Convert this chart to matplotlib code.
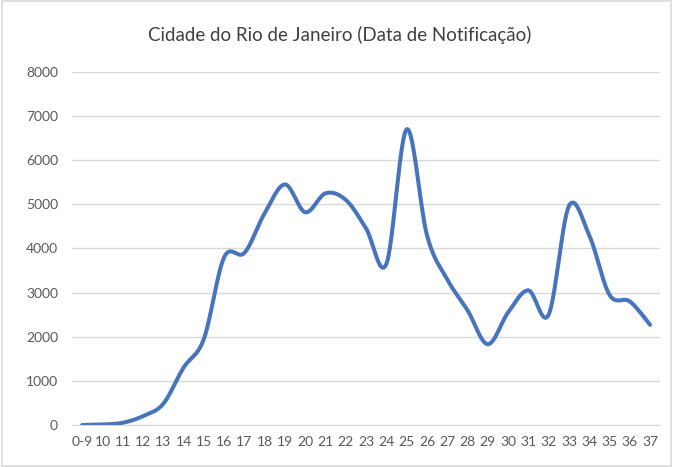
import numpy as np
import matplotlib
matplotlib.use("Agg")
import matplotlib.pyplot as plt
from matplotlib.patches import Rectangle
from matplotlib import font_manager

categories = ["0-9"] + [str(i) for i in range(10, 38)]
values = [0, 10, 50, 200, 480, 1300, 1950, 3800, 3900, 4800, 5450, 4820, 5250, 5100,
          4450, 3650, 6700, 4300, 3300, 2600, 1830, 2550, 3050, 2500, 4960, 4300,
          2950, 2800, 2270]
yticks = [0, 1000, 2000, 3000, 4000, 5000, 6000, 7000, 8000]
title = "Cidade do Rio de Janeiro (Data de Notificação)"

names = {f.name for f in font_manager.fontManager.ttflist}
fam = [f for f in ["Lato", "Open Sans", "DejaVu Sans"] if f in names]
plt.rcParams['font.family'] = fam


def smooth(x, y, n=30):
    # Bezier smoothing similar to spreadsheet "smoothed line"
    x = np.asarray(x, float); y = np.asarray(y, float)
    px, py = [], []
    for i in range(len(x) - 1):
        x0, y0 = (x[i - 1], y[i - 1]) if i > 0 else (x[i], y[i])
        x3, y3 = (x[i + 2], y[i + 2]) if i + 2 < len(x) else (x[i + 1], y[i + 1])
        x1, y1 = x[i], y[i]
        x2, y2 = x[i + 1], y[i + 1]
        c1x = x1 + (x2 - x0) / 6; c1y = y1 + (y2 - y0) / 6
        c2x = x2 - (x3 - x1) / 6; c2y = y2 - (y3 - y1) / 6
        t = np.linspace(0, 1, n)
        bx = (1 - t) ** 3 * x1 + 3 * (1 - t) ** 2 * t * c1x + 3 * (1 - t) * t ** 2 * c2x + t ** 3 * x2
        by = (1 - t) ** 3 * y1 + 3 * (1 - t) ** 2 * t * c1y + 3 * (1 - t) * t ** 2 * c2y + t ** 3 * y2
        px.extend(bx); py.extend(by)
    return np.array(px), np.array(py)


fig = plt.figure(figsize=(6.73, 4.67), dpi=100)
fig.patches.append(Rectangle((0.003, 0.003), 0.994, 0.994, transform=fig.transFigure,
                             fill=False, edgecolor="#d9d9d9", linewidth=1.2))
ax = fig.add_axes([0.107, 0.09, 0.874, 0.756])

xs = np.arange(len(categories))
sx, sy = smooth(xs, values)
ax.plot(sx, sy, color="#4874bc", linewidth=2.9, solid_capstyle="round", zorder=3)

ax.set_xlim(-0.5, len(categories) - 0.5)
ax.set_ylim(0, 8000)
ax.set_yticks(yticks)
ax.set_yticklabels([str(v) for v in yticks])
ax.set_xticks(xs)
ax.set_xticklabels(categories)
ax.grid(axis="y", color="#d9d9d9", linewidth=1)
ax.set_axisbelow(True)
for s in ax.spines.values():
    s.set_visible(False)
ax.spines["bottom"].set_visible(True)
ax.spines["bottom"].set_color("#d9d9d9")
ax.tick_params(axis="both", length=0, labelsize=10, labelcolor="#595959")
ax.tick_params(axis="x", pad=8)
ax.tick_params(axis="y", pad=10)

fig.text(0.505, 0.925, title, ha="center", va="center", fontsize=13.5, color="#404040")

fig.savefig("out.png", dpi=100)
